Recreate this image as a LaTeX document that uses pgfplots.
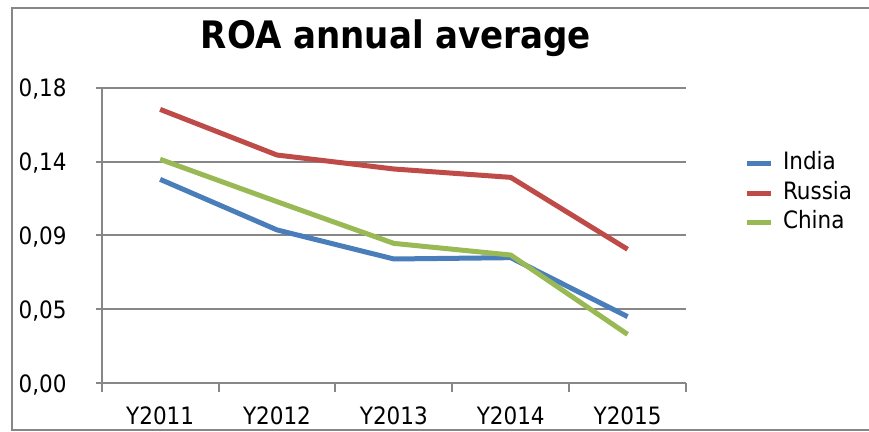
\documentclass[border=0pt]{standalone}
\usepackage{fontspec}
\setmainfont{DejaVu Sans Condensed}
\usepackage{pgfplots}
\pgfplotsset{compat=1.18}
\definecolor{indiac}{HTML}{4A7EBB}
\definecolor{russiac}{HTML}{BE4B48}
\definecolor{chinac}{HTML}{98B954}
\definecolor{gridc}{HTML}{878787}
\begin{document}
\begin{tikzpicture}
\useasboundingbox (0,0) rectangle (869bp,432bp);
\draw[gridc, line width=1.5bp] (12bp,2bp) rectangle (890bp,424bp);
\node[font=\bfseries\fontsize{38}{44}\selectfont, anchor=base] at (396bp,383.7bp) {ROA annual average};
\begin{axis}[
  at={(101.7bp,48.7bp)}, anchor=south west,
  scale only axis, width=584.3bp, height=295.6bp,
  xmin=0.5, xmax=5.5, ymin=0, ymax=0.18,
  axis x line=bottom, axis y line=left,
  axis line style={-, gridc, line width=2bp},
  xtick={1,2,3,4,5},
  xticklabels={Y2011,Y2012,Y2013,Y2014,Y2015},
  major x tick style={draw=none},
  minor xtick={0.5,1.5,2.5,3.5,4.5,5.5},
  minor x tick style={gridc, line width=2bp},
  minor tick length=9bp,
  ytick={0,0.045,0.09,0.135,0.18},
  yticklabels={{0,00},{0,05},{0,09},{0,14},{0,18}},
  major y tick style={gridc, line width=2bp},
  major tick length=6bp,
  tick align=outside,
  ymajorgrids,
  major grid style={gridc, line width=2bp},
  ticklabel style={font=\fontsize{24}{28}\selectfont, inner sep=0pt, text height=17.5bp, text depth=0pt},
  yticklabel style={anchor=east, xshift=-29bp},
  xticklabel style={anchor=north, yshift=-17bp},
  /pgf/number format/assume math mode=true,
  clip=false,
  legend style={draw=none, fill=none, inner sep=0pt, at={(1.099,0.782)}, anchor=north west,
    font=\fontsize{24}{28}\selectfont,
    nodes={inner sep=0pt, text height=17.5bp, text depth=5bp},
    column sep=10bp, row sep=7bp},
  legend cell align=left,
  legend image code/.code={\draw[#1, line width=5bp] (0bp,0bp) -- (24bp,0bp);},
  every axis plot/.append style={line width=5bp, line join=round},
]
\addplot[indiac] coordinates {(1,0.1242) (2,0.0934) (3,0.0757) (4,0.0765) (5,0.0406)};
\addplot[russiac] coordinates {(1,0.1668) (2,0.1390) (3,0.1305) (4,0.1254) (5,0.0816)};
\addplot[chinac] coordinates {(1,0.1364) (2,0.1106) (3,0.0852) (4,0.0781) (5,0.0298)};
\legend{India,Russia,China}
\end{axis}
\end{tikzpicture}
\end{document}
